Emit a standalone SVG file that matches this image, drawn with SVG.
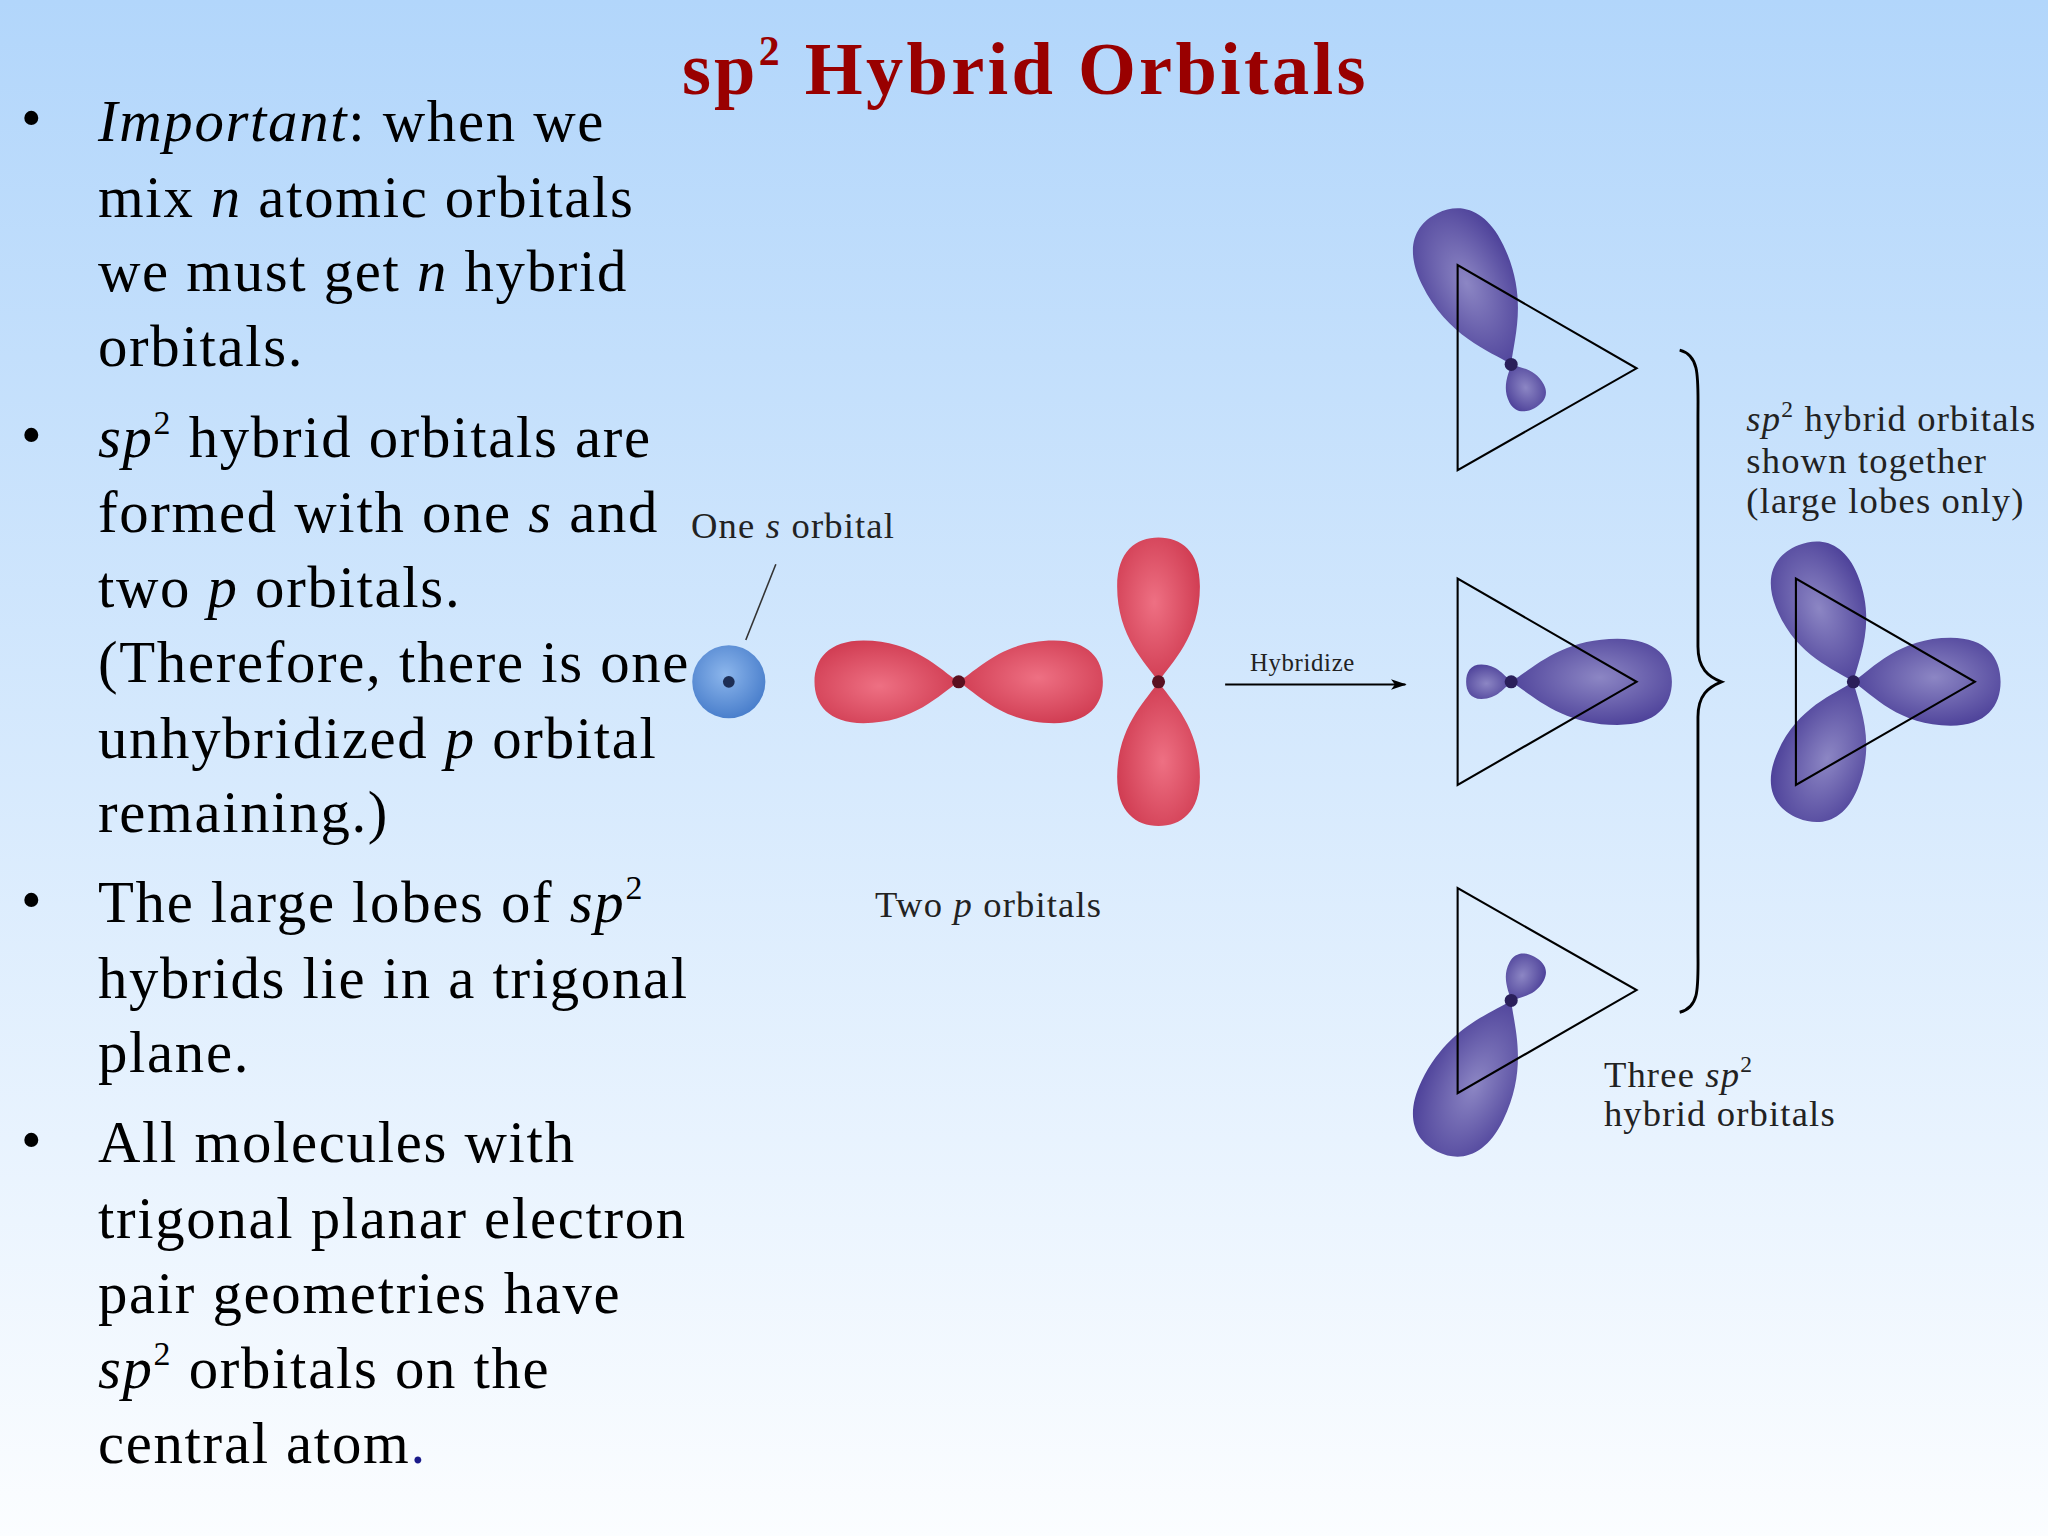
<svg xmlns="http://www.w3.org/2000/svg" width="2048" height="1536" viewBox="0 0 2048 1536">
<defs>
<linearGradient id="bg" x1="0" y1="0" x2="0" y2="1"><stop offset="0" stop-color="#b2d6fb"/><stop offset="1" stop-color="#fbfdff"/></linearGradient>
<radialGradient id="gp" cx="0.55" cy="0.45" r="0.6"><stop offset="0" stop-color="#8c86c4"/><stop offset="1" stop-color="#4b3f98"/></radialGradient>
<radialGradient id="gr" cx="0.55" cy="0.45" r="0.6"><stop offset="0" stop-color="#ee7083"/><stop offset="1" stop-color="#cf3a50"/></radialGradient>
<radialGradient id="gb" cx="0.45" cy="0.4" r="0.6"><stop offset="0" stop-color="#8cb6ec"/><stop offset="1" stop-color="#4a7fcc"/></radialGradient>
<path id="lobe" d="M0,0 C15,-10 36,-33 76,-33 C104,-33 115,-18 115,0 C115,18 104,33 76,33 C36,33 15,10 0,0Z"/>
<marker id="ah" markerWidth="12" markerHeight="8" refX="11" refY="4" orient="auto" markerUnits="userSpaceOnUse"><path d="M0,0 L12,4 L0,8 L3,4Z" fill="#000"/></marker>
</defs>
<style>
.t{font-family:"Liberation Serif",serif;font-size:45px;letter-spacing:1.3px;fill:#000}
.s{font-family:"Liberation Serif",serif;font-size:28px;letter-spacing:0.9px;fill:#222}
.tri{fill:none;stroke:#000;stroke-width:1.6}
.pl{fill:url(#gp)}
.rl{fill:url(#gr)}
.nuc{fill:#2a1f5a}
</style>
<rect width="2048" height="1536" fill="url(#bg)"/>
<g transform="scale(1.30612)">
<g id="title"><text x="785" y="72" text-anchor="middle" font-family="Liberation Serif,serif" font-weight="bold" font-size="57" letter-spacing="2.5" fill="#990000">sp<tspan font-size="32" dy="-22">2</tspan><tspan dy="22"> Hybrid Orbitals</tspan></text></g>
<g id="bullets" class="t">
<text x="16" y="106">•</text><text x="16" y="348">•</text><text x="16" y="704">•</text><text x="16" y="888">•</text>
<text x="75" y="108"><tspan font-style="italic">Important</tspan>: when we</text>
<text x="75" y="166">mix <tspan font-style="italic">n</tspan> atomic orbitals</text>
<text x="75" y="223">we must get <tspan font-style="italic">n</tspan> hybrid</text>
<text x="75" y="280">orbitals.</text>
<text x="75" y="350"><tspan font-style="italic">sp</tspan><tspan font-size="26" dy="-18">2</tspan><tspan dy="18"> hybrid orbitals are</tspan></text>
<text x="75" y="407">formed with one <tspan font-style="italic">s</tspan> and</text>
<text x="75" y="465">two <tspan font-style="italic">p</tspan> orbitals.</text>
<text x="75" y="522">(Therefore, there is one</text>
<text x="75" y="580">unhybridized <tspan font-style="italic">p</tspan> orbital</text>
<text x="75" y="637">remaining.)</text>
<text x="75" y="706">The large lobes of <tspan font-style="italic">sp</tspan><tspan font-size="26" dy="-18">2</tspan></text>
<text x="75" y="764">hybrids lie in a trigonal</text>
<text x="75" y="821">plane.</text>
<text x="75" y="890">All molecules with</text>
<text x="75" y="948">trigonal planar electron</text>
<text x="75" y="1005">pair geometries have</text>
<text x="75" y="1063"><tspan font-style="italic">sp</tspan><tspan font-size="26" dy="-18">2</tspan><tspan dy="18"> orbitals on the</tspan></text>
<text x="75" y="1120">central atom<tspan fill="#1a1a8a">.</tspan></text>
</g>
<g id="s-orbital">
<text class="s" x="529" y="412">One <tspan font-style="italic">s</tspan> orbital</text>
<line x1="594" y1="432" x2="571" y2="490" stroke="#333" stroke-width="1.2"/>
<circle cx="558" cy="522" r="28" fill="url(#gb)"/>
<circle cx="558" cy="522" r="4.5" fill="#1d2e55"/>
</g>
<g id="p-orbitals">
<use href="#lobe" class="rl" transform="translate(734,522) scale(0.96)"/>
<use href="#lobe" class="rl" transform="translate(734,522) rotate(180) scale(0.96)"/>
<use href="#lobe" class="rl" transform="translate(887,522) rotate(-90) scale(0.96)"/>
<use href="#lobe" class="rl" transform="translate(887,522) rotate(90) scale(0.96)"/>
<circle cx="734" cy="522" r="5" fill="#5a1020"/><circle cx="887" cy="522" r="5" fill="#5a1020"/>
<text class="s" x="670" y="702">Two <tspan font-style="italic">p</tspan> orbitals</text>
</g>
<g id="connectors">
<line x1="938" y1="524" x2="1076" y2="524" stroke="#000" stroke-width="1.5" marker-end="url(#ah)"/>
<text x="957" y="514" font-family="Liberation Serif,serif" font-size="19" letter-spacing="0.5" fill="#222">Hybridize</text>
<path d="M1286,268 C1302,272 1300,290 1300,320 L1300,495 C1300,512 1308,518 1318,522 C1308,526 1300,532 1300,549 L1300,725 C1300,755 1302,771 1286,775" fill="none" stroke="#000" stroke-width="2.2"/>
</g>
<g id="hybrid-top">
<use href="#lobe" class="pl" transform="translate(1157,279) rotate(-116) scale(1.12,1.05)"/>
<use href="#lobe" class="pl" transform="translate(1157,279) rotate(62) scale(0.33,0.45)"/>
<polygon class="tri" points="1116,203 1116,360 1253,282"/>
<circle class="nuc" cx="1157" cy="279" r="5"/>
</g>
<g id="hybrid-mid">
<use href="#lobe" class="pl" transform="translate(1157,522) scale(1.07,1.0)"/>
<use href="#lobe" class="pl" transform="translate(1157,522) rotate(180) scale(0.3,0.4)"/>
<polygon class="tri" points="1116,443 1116,601 1253,522"/>
<circle class="nuc" cx="1157" cy="522" r="5"/>
</g>
<g id="hybrid-bot">
<use href="#lobe" class="pl" transform="translate(1157,766) rotate(116) scale(1.12,1.05)"/>
<use href="#lobe" class="pl" transform="translate(1157,766) rotate(-62) scale(0.33,0.45)"/>
<polygon class="tri" points="1116,680 1116,837 1253,758"/>
<circle class="nuc" cx="1157" cy="766" r="5"/>
<text class="s" x="1228" y="832">Three <tspan font-style="italic">sp</tspan><tspan font-size="18" dy="-11">2</tspan></text>
<text class="s" x="1228" y="862">hybrid orbitals</text>
</g>
<g id="hybrid-combined">
<use href="#lobe" class="pl" transform="translate(1419,522) scale(0.98,1.02)"/>
<use href="#lobe" class="pl" transform="translate(1419,522) rotate(-112) scale(0.98,1.02)"/>
<use href="#lobe" class="pl" transform="translate(1419,522) rotate(112) scale(0.98,1.02)"/>
<polygon class="tri" points="1375,443 1375,601 1512,522"/>
<circle class="nuc" cx="1419" cy="522" r="5"/>
<text class="s" x="1337" y="330"><tspan font-style="italic">sp</tspan><tspan font-size="18" dy="-11">2</tspan><tspan dy="11"> hybrid orbitals</tspan></text>
<text class="s" x="1337" y="362">shown together</text>
<text class="s" x="1337" y="393">(large lobes only)</text>
</g>
</g>
</svg>
